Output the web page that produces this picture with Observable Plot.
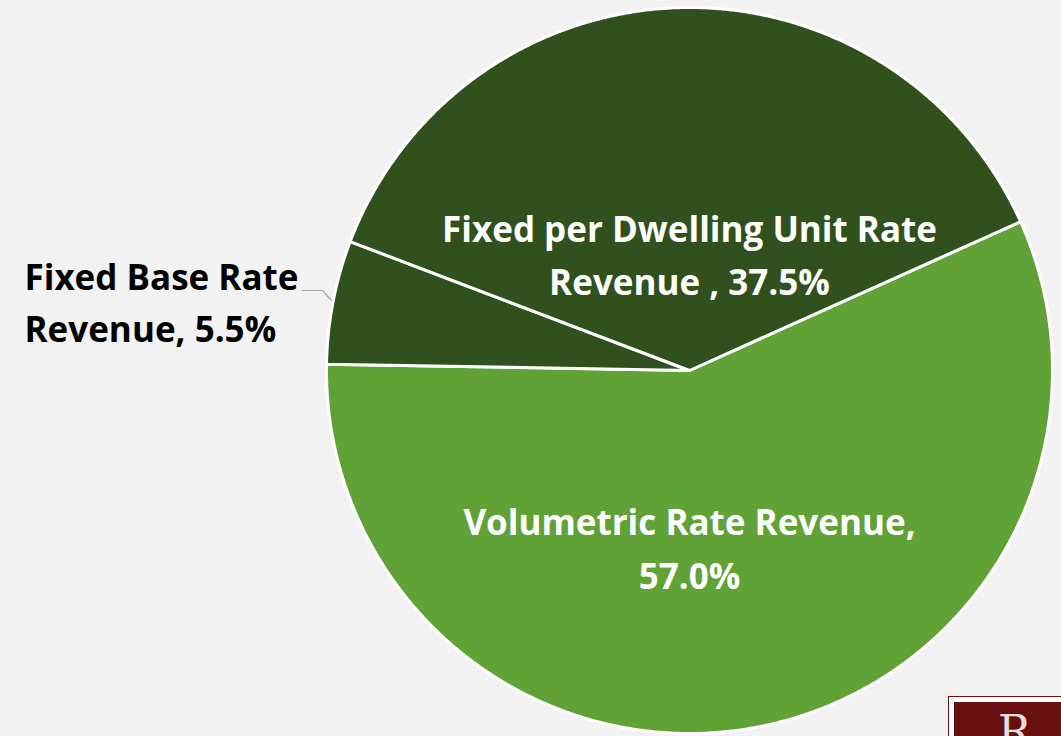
<!DOCTYPE html>
<html>
<head>
<meta charset="utf-8">
<script src="https://cdn.jsdelivr.net/npm/d3@7"></script>
<script src="https://cdn.jsdelivr.net/npm/@observablehq/plot@0.6"></script>
<style>
  html, body { margin: 0; padding: 0; background: #f2f2f2; }
  #wrap { position: relative; width: 1061px; height: 736px; overflow: hidden; background: #f2f2f2; }
  #logo { position: absolute; left: 948px; top: 696px; width: 120px; height: 50px; box-sizing: border-box;
          border: 1px solid #6a0f10; background: #fff; padding: 5px; }
  #logo div { width: 100%; height: 100%; background: #6a0f10; color: #e8dede; font-family: "DejaVu Serif", serif;
              font-size: 44px; line-height: 44px; padding-left: 44px; padding-top: 8px; box-sizing: border-box; }
</style>
</head>
<body>
<div id="wrap"></div>
<script>
// Data
const categories = ["Volumetric Rate Revenue", "Fixed Base Rate Revenue", "Fixed per Dwelling Unit Rate Revenue"];
const shares = [57.0, 5.5, 37.5];
const labelLines = [
  ["Volumetric Rate Revenue,", "57.0%"],
  ["Fixed Base Rate", "Revenue, 5.5%"],
  ["Fixed per Dwelling Unit Rate", "Revenue , 37.5%"]
];
const colors = ["#60a236", "#30501d", "#30501d"];
const startAngleDeg = 65.8; // clockwise from 12 o'clock

const R = 363;
const total = d3.sum(shares);
const slicePts = [];
let a0 = startAngleDeg * Math.PI / 180;
shares.forEach((v, i) => {
  const a1 = a0 + v / total * 2 * Math.PI;
  slicePts.push({cat: categories[i], x: 0, y: 0});
  const n = Math.max(8, Math.ceil((a1 - a0) / 0.005));
  for (let k = 0; k <= n; k++) {
    const a = a0 + (a1 - a0) * k / n;
    slicePts.push({cat: categories[i], x: R * Math.sin(a), y: R * Math.cos(a)});
  }
  slicePts.push({cat: categories[i], x: 0, y: 0});
  a0 = a1;
});

const insideLabels = [
  {cat: categories[2], x: 0, y: 140, line: 0},
  {cat: categories[2], x: 0, y: 87, line: 1},
  {cat: categories[0], x: 0, y: -153, line: 0},
  {cat: categories[0], x: 0, y: -207, line: 1}
].map(d => ({...d, text: labelLines[categories.indexOf(d.cat)][d.line]}));
const outsideLabels = [
  {cat: categories[1], x: -665, y: 92, line: 0},
  {cat: categories[1], x: -665, y: 40, line: 1}
].map(d => ({...d, text: labelLines[categories.indexOf(d.cat)][d.line]}));

const leader = [
  {x: -387, y: 80}, {x: -367, y: 80}, {x: -358, y: 70}
];

const colorMap = d3.scaleOrdinal(categories, colors);
const font = {fontFamily: "'Open Sans', sans-serif", fontWeight: "bold", fontSize: 35};

const chart = Plot.plot({
  width: 1061,
  height: 736,
  margin: 0,
  style: {background: "#f2f2f2", overflow: "visible"},
  x: {domain: [-689, 372], range: [0, 1061], axis: null},
  y: {domain: [-366, 370], range: [736, 0], axis: null},
  marks: [
    Plot.line(slicePts, {x: "x", y: "y", z: "cat", fill: d => colorMap(d.cat), stroke: "white", strokeWidth: 3, strokeLinejoin: "round"}),
    Plot.line(leader, {x: "x", y: "y", stroke: "#a6a6a6", strokeWidth: 1.2}),
    Plot.text(insideLabels, {x: "x", y: "y", text: "text", textAnchor: "middle", fill: "white", ...font}),
    Plot.text(outsideLabels, {x: "x", y: "y", text: "text", textAnchor: "start", fill: "black", ...font})
  ]
});
document.getElementById("wrap").appendChild(chart);
const logo = document.createElement("div");
logo.id = "logo";
logo.innerHTML = "<div>R</div>";
document.getElementById("wrap").appendChild(logo);
</script>
</body>
</html>
